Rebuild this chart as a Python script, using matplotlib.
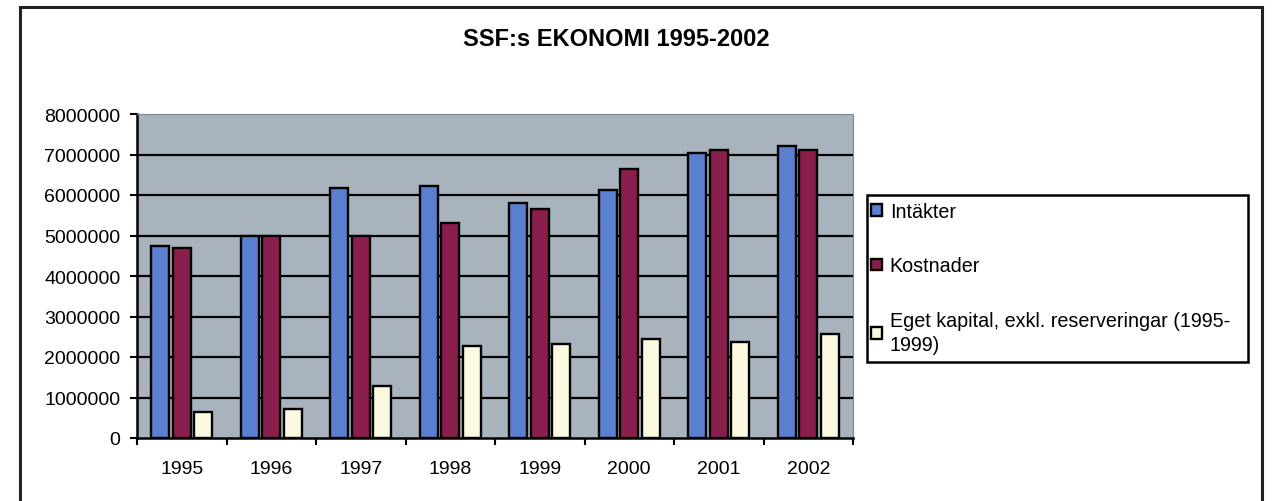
import matplotlib.pyplot as plt
import numpy as np
from matplotlib.patches import Rectangle

years = ['1995', '1996', '1997', '1998', '1999', '2000', '2001', '2002']
intakter = [4750000, 5000000, 6170000, 6220000, 5800000, 6130000, 7030000, 7220000]
kostnader = [4690000, 5000000, 5000000, 5310000, 5660000, 6640000, 7110000, 7100000]
eget_kapital = [640000, 710000, 1280000, 2270000, 2330000, 2450000, 2370000, 2570000]

plt.rcParams['font.family'] = ['Liberation Sans', 'DejaVu Sans']

fig = plt.figure(figsize=(12.74, 5.02), dpi=100)

# outer frame of the chart object
fig.patches.append(Rectangle((20 / 1274, -0.05), 1242 / 1274, 1.05 - 8 / 502,
                             transform=fig.transFigure, fill=False,
                             edgecolor='#222222', linewidth=2.2))

ax = fig.add_axes([137 / 1274, 63 / 502, 716 / 1274, 324 / 502])
ax.set_facecolor('#a8b3be')

x = np.arange(len(years))
w = 0.205
ax.bar(x - 0.24, intakter, w, color='#5b7fcf', edgecolor='black', linewidth=1.7, label='Intäkter', zorder=3)
ax.bar(x, kostnader, w, color='#8a1f4e', edgecolor='black', linewidth=1.7, label='Kostnader', zorder=3)
ax.bar(x + 0.24, eget_kapital, w, color='#fbfae0', edgecolor='black', linewidth=1.7,
       label='Eget kapital, exkl. reserveringar (1995-\n1999)', zorder=3)

ax.set_xlim(-0.5, len(years) - 0.5)
ax.set_ylim(0, 8000000)
ax.set_yticks(np.arange(0, 8000001, 1000000))
ax.set_yticklabels([str(v) for v in range(0, 8000001, 1000000)], fontsize=14)

for v in range(1000000, 8000000, 1000000):
    ax.axhline(v, color='black', linewidth=1.6, zorder=1)

ax.set_xticks(x)
ax.set_xticklabels(years, fontsize=14)
ax.tick_params(axis='x', length=0, pad=16)
ax.set_xticks(np.arange(-0.5, len(years) + 0.5, 1), minor=True)
ax.tick_params(axis='x', which='minor', length=5, width=1.5, direction='out', color='black')
ax.tick_params(axis='y', length=5, width=1.5, direction='out', pad=7)

ax.spines['left'].set_linewidth(1.8)
ax.spines['bottom'].set_linewidth(1.8)
ax.spines['top'].set_color('#7f8a94')
ax.spines['right'].set_color('#7f8a94')

fig.text(616 / 1274, 1 - 39 / 502, 'SSF:s EKONOMI 1995-2002', ha='center', va='center',
         fontsize=17, fontweight='bold')

# legend: entries from the library, box drawn separately
leg = fig.legend(loc='upper left', bbox_to_anchor=(869 / 1274, 1 - 201 / 502),
                 fontsize=14.2, frameon=False, borderaxespad=0,
                 handlelength=0.55, handleheight=0.55, handletextpad=0.4,
                 labelspacing=1.8, borderpad=0.1)
leg.get_texts()[2].set_linespacing(1.35)
fig.patches.append(Rectangle((867 / 1274, 1 - 363 / 502), 381 / 1274, 167 / 502,
                             transform=fig.transFigure, fill=True, facecolor='white',
                             edgecolor='black', linewidth=1.8, zorder=0))

fig.savefig('out.png', dpi=100)
